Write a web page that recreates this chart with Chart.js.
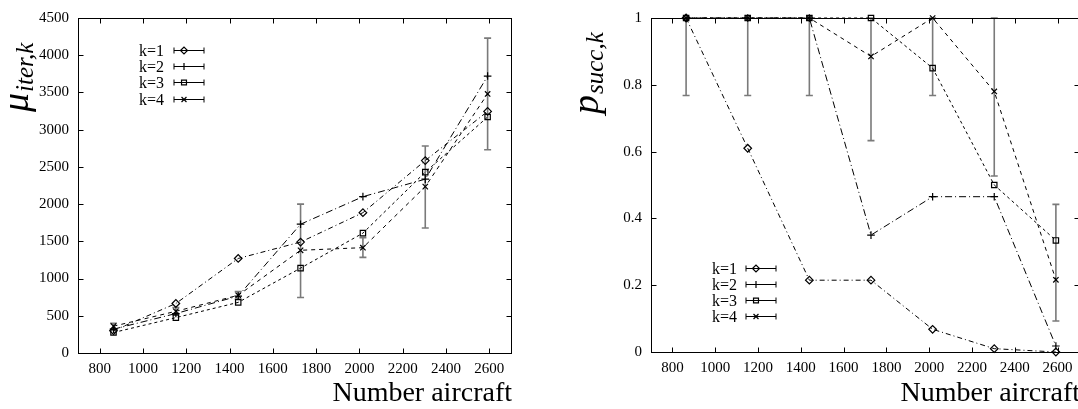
<!DOCTYPE html>
<html>
<head>
<meta charset="utf-8">
<script src="https://cdn.jsdelivr.net/npm/chart.js@4.4.1/dist/chart.umd.min.js"></script>
<style>
  html, body { margin: 0; padding: 0; background: #fff; overflow: hidden; }
  #wrap { position: relative; width: 1078px; height: 409px; overflow: hidden; }
  canvas { position: absolute; top: 0; }
  #iterChart { left: 0; }
  #succChart { left: 540px; }
</style>
</head>
<body>
<div id="wrap">
  <canvas id="iterChart" width="540" height="409"></canvas>
  <canvas id="succChart" width="560" height="409"></canvas>
</div>
<script>
// x values and tick labels shared by both panels
const aircraft = [864, 1152, 1440, 1728, 2016, 2304, 2592];
const aircraftTicks = [800, 1000, 1200, 1400, 1600, 1800, 2000, 2200, 2400, 2600];
const seriesNames = ['k=1', 'k=2', 'k=3', 'k=4'];

// left panel: mean number of iterations
const iterK1 = [300, 665, 1270, 1490, 1885, 2585, 3245];
const iterK2 = [320, 530, 765, 1730, 2100, 2335, 3720];
const iterK3 = [275, 475, 680, 1140, 1610, 2430, 3170];
const iterK4 = [360, 560, 775, 1380, 1415, 2235, 3480];
const iterK4Low = [320, 510, 725, 745, 1285, 1680, 2730];
const iterK4High = [400, 610, 825, 2000, 1550, 2780, 4230];
const iterTicks = [0, 500, 1000, 1500, 2000, 2500, 3000, 3500, 4000, 4500];

// right panel: success probability
const succK1 = [1, 0.61, 0.215, 0.215, 0.068, 0.01, 0];
const succK2 = [1, 1, 1, 0.35, 0.465, 0.465, 0.018];
const succK3 = [1, 1, 1, 1, 0.85, 0.5, 0.334];
const succK4 = [1, 1, 1, 0.885, 1, 0.78, 0.216];
const succK4Low = [0.768, 0.768, 0.768, 0.633, 0.768, 0.527, 0.093];
const succK4High = [1, 1, 1, 1, 1, 1, 0.442];
const succTicks = [0, 0.2, 0.4, 0.6, 0.8, 1];

const pointStyles = ['rectRot', 'cross', 'rect', 'crossRot'];
const dashes = [[5, 3, 1, 3], [7, 3, 1, 3], [3, 3], [4, 4]];
const serif = '"Liberation Serif", "Times New Roman", serif';

// gnuplot-like frame, inward ticks, error bars, key and axis titles
const gnuplotLook = {
  id: 'gnuplotLook',
  beforeDatasetsDraw(chart, args, o) {
    const ctx = chart.ctx, xs = chart.scales.x, ys = chart.scales.y;
    ctx.save();
    ctx.strokeStyle = '#7a7a7a';
    ctx.lineWidth = 1.6;
    aircraft.forEach((a, i) => {
      const x = xs.getPixelForValue(a);
      const y1 = ys.getPixelForValue(o.low[i]);
      const y2 = ys.getPixelForValue(o.high[i]);
      ctx.beginPath();
      ctx.moveTo(x, y1); ctx.lineTo(x, y2);
      ctx.moveTo(x - 3.5, y1); ctx.lineTo(x + 3.5, y1);
      ctx.moveTo(x - 3.5, y2); ctx.lineTo(x + 3.5, y2);
      ctx.stroke();
    });
    ctx.restore();
  },
  afterDraw(chart, args, o) {
    const ctx = chart.ctx, a = chart.chartArea, xs = chart.scales.x, ys = chart.scales.y;
    const L = Math.round(a.left) + 0.5, R = Math.round(a.right) + 0.5;
    const T = Math.round(a.top) + 0.5, B = Math.round(a.bottom) + 0.5;
    ctx.save();
    ctx.strokeStyle = '#000';
    ctx.lineWidth = 1;
    ctx.setLineDash([]);
    ctx.strokeRect(L, T, R - L, B - T);
    ctx.beginPath();
    xs.ticks.forEach(t => {
      const x = Math.round(xs.getPixelForValue(t.value)) + 0.5;
      ctx.moveTo(x, B); ctx.lineTo(x, B - 5);
      ctx.moveTo(x, T); ctx.lineTo(x, T + 5);
    });
    ys.ticks.forEach(t => {
      const y = Math.round(ys.getPixelForValue(t.value)) + 0.5;
      ctx.moveTo(L, y); ctx.lineTo(L + 5, y);
      ctx.moveTo(R, y); ctx.lineTo(R - 5, y);
    });
    ctx.stroke();

    // key
    ctx.fillStyle = '#000';
    ctx.font = '16px ' + serif;
    ctx.textAlign = 'right';
    ctx.textBaseline = 'middle';
    seriesNames.forEach((name, i) => {
      const y = Math.round(o.keyY + i * o.keyStep) + 0.5;
      ctx.fillText(name, o.keyText, y + 1);
      ctx.beginPath();
      ctx.moveTo(o.keyX0, y); ctx.lineTo(o.keyX1, y);
      ctx.moveTo(o.keyX0, y - 3); ctx.lineTo(o.keyX0, y + 3);
      ctx.moveTo(o.keyX1, y - 3); ctx.lineTo(o.keyX1, y + 3);
      ctx.stroke();
      ctx.fillStyle = 'rgba(0,0,0,0)';
      ctx.lineWidth = 1.2;
      Chart.helpers.drawPoint(ctx, {pointStyle: pointStyles[i], radius: 3.5, rotation: 0, borderWidth: 1.2}, o.keyMark, y);
      ctx.lineWidth = 1;
      ctx.fillStyle = '#000';
    });

    // x title
    ctx.font = '28px ' + serif;
    ctx.textAlign = 'right';
    ctx.textBaseline = 'alphabetic';
    ctx.fillText('Number aircraft', o.titleRight, 401);

    // y title, rotated, with subscript
    ctx.translate(o.yBase, o.yStart);
    ctx.rotate(-Math.PI / 2);
    ctx.textAlign = 'left';
    ctx.font = 'italic 38px ' + serif;
    ctx.fillText(o.yMain, 0, 0);
    const w = ctx.measureText(o.yMain).width;
    ctx.font = 'italic 25px ' + serif;
    ctx.fillText(o.ySub, w + 1, 5);
    ctx.restore();
  }
};

function makeDatasets(series) {
  return series.map((vals, i) => ({
    label: seriesNames[i],
    data: aircraft.map((a, j) => ({x: a, y: vals[j]})),
    borderColor: '#000',
    borderWidth: 1,
    borderDash: dashes[i],
    pointStyle: pointStyles[i],
    pointRadius: 3.8,
    pointBorderWidth: 1.2,
    pointBorderColor: '#000',
    pointBackgroundColor: 'rgba(0,0,0,0)',
    fill: false,
    tension: 0,
    clip: false
  }));
}

function makeChart(id, series, yTicks, yMax, layout, look) {
  return new Chart(document.getElementById(id).getContext('2d'), {
    type: 'line',
    data: {datasets: makeDatasets(series)},
    options: {
      responsive: false,
      animation: false,
      devicePixelRatio: 1,
      layout: {padding: layout.padding},
      plugins: {legend: {display: false}, tooltip: {enabled: false}, gnuplotLook: look},
      scales: {
        x: {
          type: 'linear', min: 700, max: 2700,
          afterBuildTicks: s => { s.ticks = aircraftTicks.map(v => ({value: v})); },
          afterFit: s => { s.height = layout.xHeight; },
          grid: {display: false, drawTicks: false},
          border: {display: false},
          ticks: {color: '#000', font: {family: serif, size: 15}, padding: 7, maxRotation: 0,
                  callback: v => String(v)}
        },
        y: {
          type: 'linear', min: 0, max: yMax,
          afterBuildTicks: s => { s.ticks = yTicks.map(v => ({value: v})); },
          afterFit: s => { s.width = layout.yWidth; },
          grid: {display: false, drawTicks: false},
          border: {display: false},
          ticks: {color: '#000', font: {family: serif, size: 15}, padding: 9,
                  callback: v => String(v)}
        }
      }
    },
    plugins: [gnuplotLook]
  });
}

makeChart('iterChart', [iterK1, iterK2, iterK3, iterK4], iterTicks, 4500,
  {padding: {left: 0, top: 13, right: 29, bottom: 0}, yWidth: 78, xHeight: 56},
  {low: iterK4Low, high: iterK4High, keyText: 164, keyY: 50, keyStep: 16.2,
   keyX0: 174, keyX1: 204, keyMark: 184, titleRight: 512,
   yMain: 'μ', ySub: 'iter,k', yBase: 28, yStart: 112});

makeChart('succChart', [succK1, succK2, succK3, succK4], succTicks, 1,
  {padding: {left: 0, top: 12, right: 21, bottom: 0}, yWidth: 111, xHeight: 57},
  {low: succK4Low, high: succK4High, keyText: 197, keyY: 267.7, keyStep: 16.1,
   keyX0: 206, keyX1: 236, keyMark: 216, titleRight: 540,
   yMain: 'p', ySub: 'succ,k', yBase: 58, yStart: 114});
</script>
</body>
</html>
